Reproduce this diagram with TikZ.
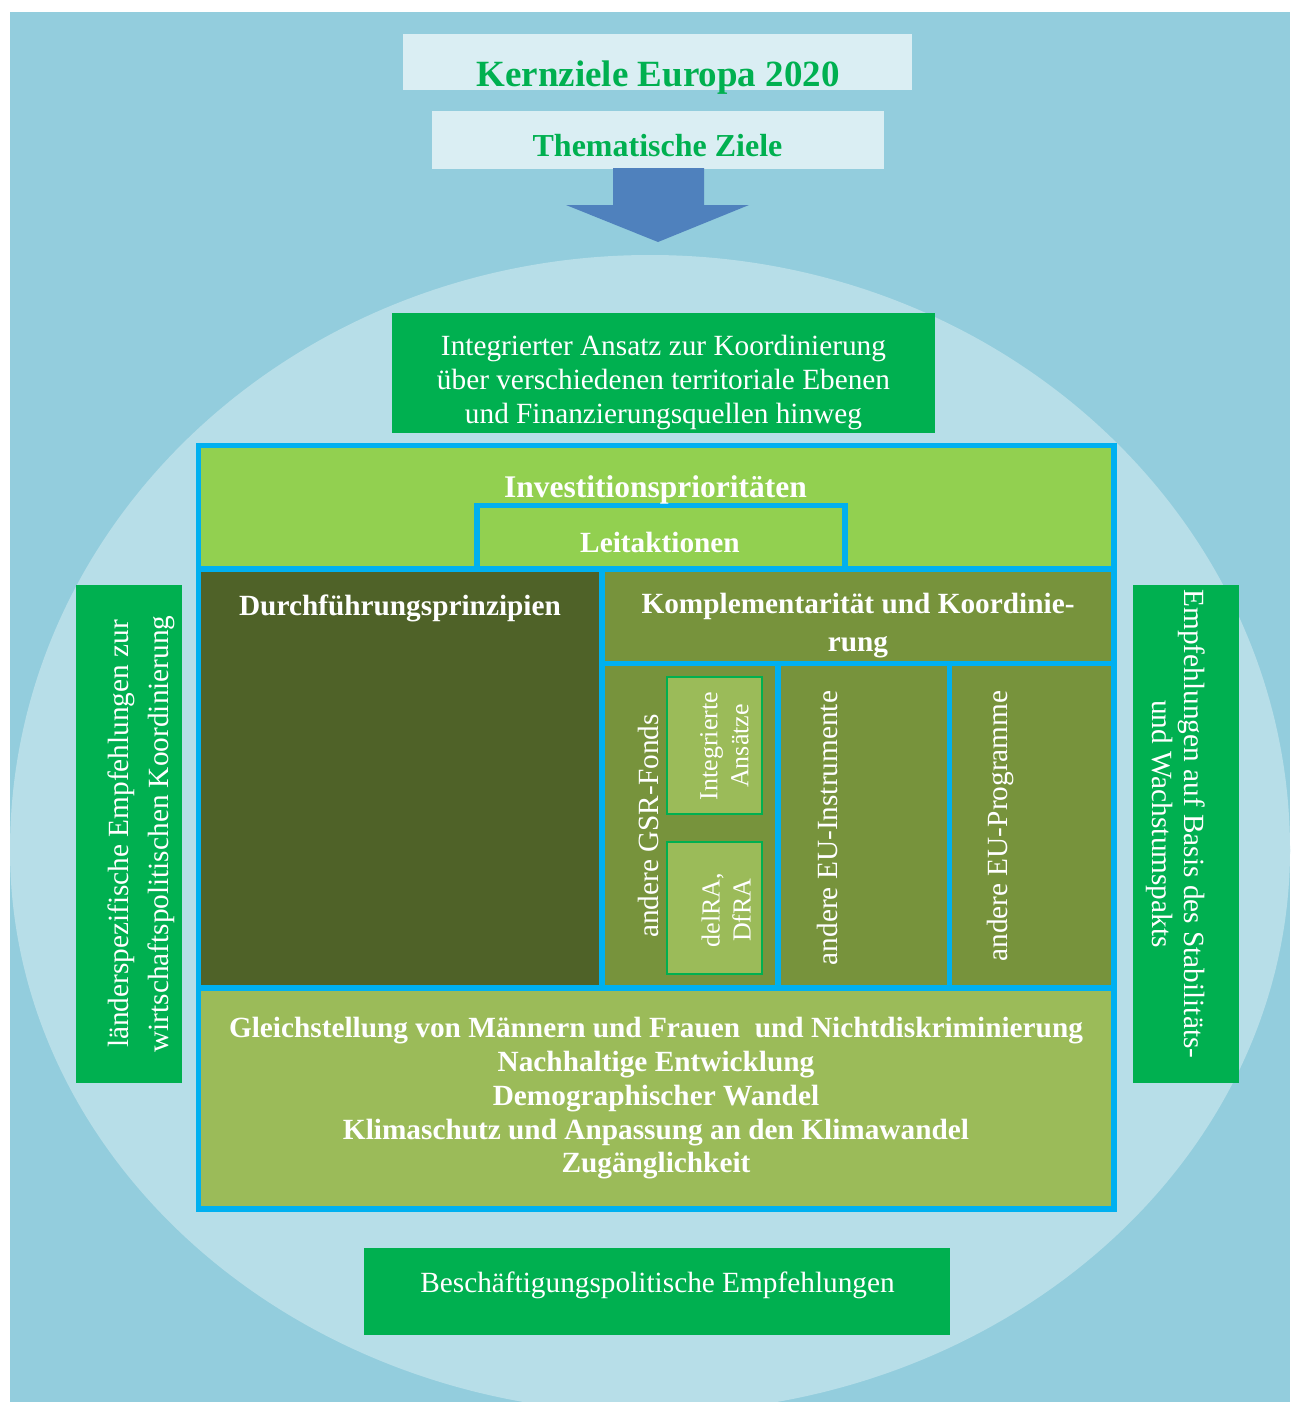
\documentclass[tikz,border=0pt]{standalone}
\usepackage{fontspec}
\setmainfont{Liberation Serif}
\definecolor{cBg}{HTML}{93CDDD}
\definecolor{cOval}{HTML}{B7DEE8}
\definecolor{cPale}{HTML}{DAEEF3}
\definecolor{cGreen}{HTML}{00B050}
\definecolor{cArrow}{HTML}{4F81BD}
\definecolor{cFrame}{HTML}{00B0F0}
\definecolor{cLime}{HTML}{92D050}
\definecolor{cDarkOlive}{HTML}{4F6228}
\definecolor{cOlive}{HTML}{77933C}
\definecolor{cLightOlive}{HTML}{9BBB59}
\newcommand\fsz[2]{\fontsize{#1}{#2}\selectfont}
\begin{document}
\begin{tikzpicture}[x=1pt,y=-1pt,
  wlbl/.style={text=white, inner sep=0pt, align=center},
  glbl/.style={text=cGreen, inner sep=0pt, align=center},
  gridline/.style={draw=cFrame, line width=5.5pt},
  subbox/.style={fill=cLightOlive, draw=cGreen, line width=2.5pt}]
\useasboundingbox (0,0) rectangle (1290,1402);

% background and oval
\fill[cBg] (10,12) rectangle (1290,1402);
\begin{scope}
  \clip (10,12) rectangle (1290,851);
  \fill[cOval] (650,850) ellipse [x radius=640, y radius=595];
\end{scope}
\begin{scope}
  \clip (10,849) rectangle (1290,1402);
  \fill[cOval] (650,850) ellipse [x radius=640, y radius=563];
\end{scope}

% headline boxes and arrow
\fill[cPale] (403,34) rectangle (912,90);
\node[glbl, font=\fsz{37}{44}\bfseries, anchor=base] (kern) at (658,87) {Kernziele Europa 2020};
\fill[cPale] (432,111) rectangle (884,169);
\node[glbl, font=\fsz{32}{38}\bfseries, anchor=base] (them) at (657.5,157) {Thematische Ziele};
\fill[cArrow] (613,168) -- (704,168) -- (704,205) -- (749,205) -- (658,242)
  -- (566,205) -- (613,205) -- cycle;

% integrated approach
\fill[cGreen] (392,313) rectangle (935,433);
\node[wlbl, font=\fsz{29.3}{34}] (ansatz) at (663.5,382)
  {Integrierter Ansatz zur Koordinierung\\über verschiedenen territoriale Ebenen\\und Finanzierungsquellen hinweg};

% framed block: fills
\fill[cLime] (198.5,445.5) rectangle (1114,569);
\fill[cDarkOlive] (198.5,569) rectangle (602,988);
\fill[cOlive] (602,569) rectangle (1114,988);
\fill[cLightOlive] (198.5,988) rectangle (1114,1209);

% framed block: dividing lines
\draw[gridline] (477,569) -- (477,505.5) -- (845,505.5) -- (845,569);
\draw[gridline] (198.5,569) -- (1114,569);
\draw[gridline] (602,569) -- (602,988);
\draw[gridline] (602,663.5) -- (1114,663.5);
\draw[gridline] (778,663.5) -- (778,988);
\draw[gridline] (949.5,663.5) -- (949.5,988);
\draw[gridline] (198.5,988) -- (1114,988);
\draw[gridline] (198.5,445.5) rectangle (1114,1209);

% inner boxes of the first column
\draw[subbox] (667,677) rectangle (762,814);
\draw[subbox] (667,842) rectangle (762,974);

% labels inside the frame
\node[wlbl, font=\fsz{31.5}{38}\bfseries, anchor=base] (invest) at (655.5,497) {Investitionsprioritäten};
\node[wlbl, font=\fsz{29.3}{36}\bfseries, anchor=base] (leit) at (660,552) {Leitaktionen};
\node[wlbl, font=\fsz{29.3}{36}\bfseries, anchor=base] (durch) at (400,615) {Durchführungsprinzipien};
\node[wlbl, font=\fsz{29.3}{38}\bfseries] (kompl) at (858,626) {Komplementarität und Koordinie-\\rung};
\node[wlbl, rotate=90, font=\fsz{29.3}{34}] (gsr) at (648,826) {andere GSR-Fonds};
\node[wlbl, rotate=90, font=\fsz{26}{31}] (integ) at (724.5,746) {Integrierte\\Ansätze};
\node[wlbl, rotate=90, font=\fsz{26}{31}] (delra) at (726,910) {delRA,\\DfRA};
\node[wlbl, rotate=90, font=\fsz{29.3}{34}] (instr) at (827,828) {andere EU-Instrumente};
\node[wlbl, rotate=90, font=\fsz{29.3}{34}] (progr) at (1000,826) {andere EU-Programme};
\node[wlbl, font=\fsz{29.3}{33.75}\bfseries] (quer) at (656,1098.5)
  {Gleichstellung von Männern und Frauen\ \ und Nichtdiskriminierung\\Nachhaltige Entwicklung\\Demographischer Wandel\\Klimaschutz und Anpassung an den Klimawandel\\Zugänglichkeit};

% side and bottom recommendations
\fill[cGreen] (76,585) rectangle (182,1083);
\node[wlbl, rotate=90, font=\fsz{29.3}{40}] (laender) at (141,834)
  {länderspezifische Empfehlungen zur\\wirtschaftspolitischen Koordinierung};
\fill[cGreen] (1133,585) rectangle (1239,1083);
\node[wlbl, rotate=-90, font=\fsz{29.3}{32}] (stab) at (1176,824)
  {Empfehlungen auf Basis des Stabilitäts-\\und Wachstumspakts};
\fill[cGreen] (364,1248) rectangle (950,1335);
\node[wlbl, font=\fsz{29.3}{35}, anchor=base] (besch) at (657.5,1292) {Beschäftigungspolitische Empfehlungen};
\end{tikzpicture}
\end{document}
